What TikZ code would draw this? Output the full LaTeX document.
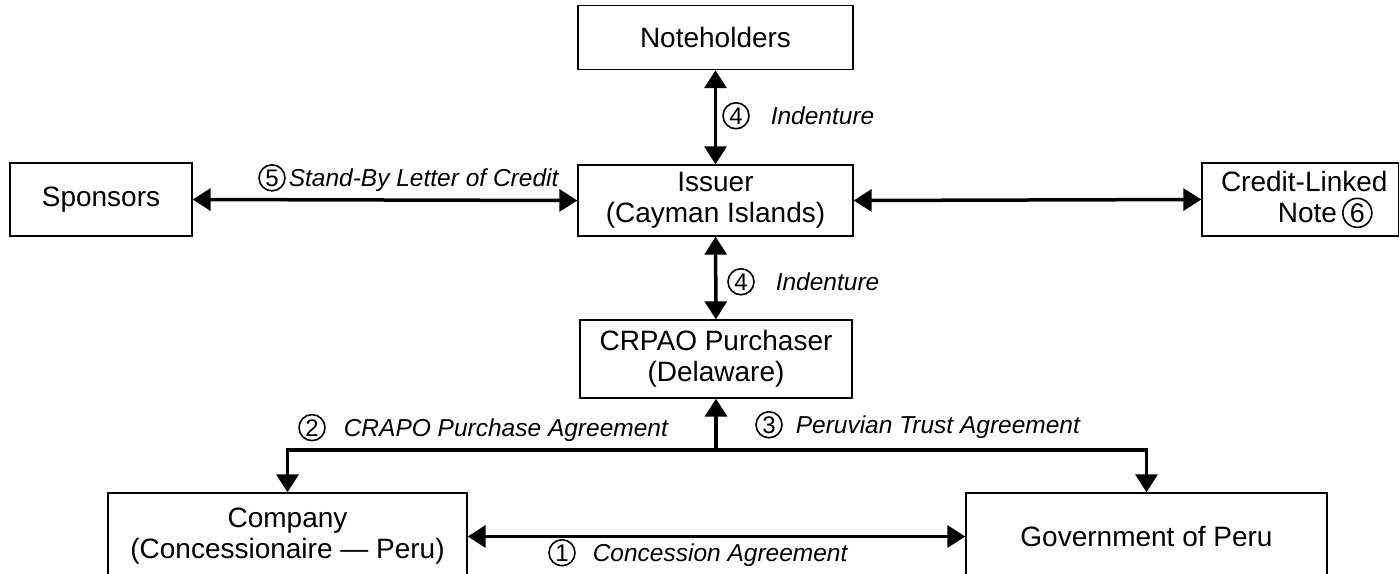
\documentclass[tikz,border=0pt]{standalone}
\usepackage{fontspec}
\setmainfont{Liberation Sans}
\usetikzlibrary{arrows.meta,calc}
\tikzset{cnumstyle/.style={circle,draw,line width=1.6pt,inner sep=0pt,minimum size=#1}}
\newcommand{\cnum}[1]{\tikz[baseline=(cn.base)]\node[cnumstyle=26pt,font=\upshape\fontsize{24}{24}\selectfont](cn){#1};}
\newcommand{\cnumbig}[1]{\tikz[baseline=(cn.base)]\node[cnumstyle=29pt,font=\upshape\fontsize{27}{27}\selectfont](cn){#1};}
\begin{document}
\begin{tikzpicture}[x=1pt,y=-1pt,
  box/.style={draw,line width=1.4pt,inner sep=0pt,align=center,font=\fontsize{28}{31}\selectfont},
  lab/.style={inner sep=0pt,anchor=base west,font=\fontsize{24.5}{28}\selectfont\itshape},
  conn/.style={line width=3.5pt},
  biarrow/.style={conn,{Triangle[length=18pt,width=22pt]}-{Triangle[length=18pt,width=22pt]}},
  onearrow/.style={conn,-{Triangle[length=18pt,width=22pt]}}]
\useasboundingbox (0,0) rectangle (1400,573);
\clip (0,0) rectangle (1400,573);
\fill[white] (0,0) rectangle (1400,573);
% boxes
\node[box,minimum width=275pt,minimum height=64pt] (note) at (715.5,37.5) {Noteholders};
\node[box,minimum width=275pt,minimum height=71pt] (issuer) at (715.5,200.5) {Issuer\\(Cayman Islands)};
\node[box,minimum width=182pt,minimum height=73pt] (spons) at (101,199.5) {Sponsors};
\node[box,minimum width=196.5pt,minimum height=73pt] (cln) at (1300.25,199.5) {\hspace{8pt}Credit-Linked\\\hspace{50pt}Note\hspace{5pt}\cnumbig{6}};
\node[box,minimum width=272pt,minimum height=78pt] (crpao) at (716,359) {CRPAO Purchaser\\(Delaware)};
\node[box,minimum width=359pt,minimum height=87pt] (company) at (287.5,536.5) {Company\\(Concessionaire --- Peru)};
\node[box,minimum width=361pt,minimum height=87pt] (gov) at (1146.5,536.5) {Government of Peru};
% connectors
\draw[biarrow] (note) -- (issuer);
\draw[biarrow] (issuer) -- (crpao);
\draw[biarrow] (spons.east) -- (issuer.west);
\draw[biarrow] (issuer.east) -- (cln.west);
\draw[biarrow] (company.east) -- (gov.west);
\coordinate (J) at (716,450);
\draw[onearrow] (J) -- (crpao.south);
\draw[onearrow] (J) -| (company.north);
\draw[onearrow] (J) -| (gov.north);
% labels
\node[lab] (l4a) at (722,124) {\cnum{4}\hspace{21pt}Indenture};
\node[lab] (l4b) at (727,290) {\cnum{4}\hspace{21pt}Indenture};
\node[lab] (l5) at (258,186) {\cnum{5}\hspace{3pt}Stand-By Letter of Credit};
\node[lab] (l2) at (298,436) {\cnum{2}\hspace{18pt}CRAPO Purchase Agreement};
\node[lab] (l3) at (755,433) {\cnum{3}\hspace{13pt}Peruvian Trust Agreement};
\node[lab] (l1) at (548,561) {\cnum{1}\hspace{17pt}Concession Agreement};
\end{tikzpicture}
\end{document}
